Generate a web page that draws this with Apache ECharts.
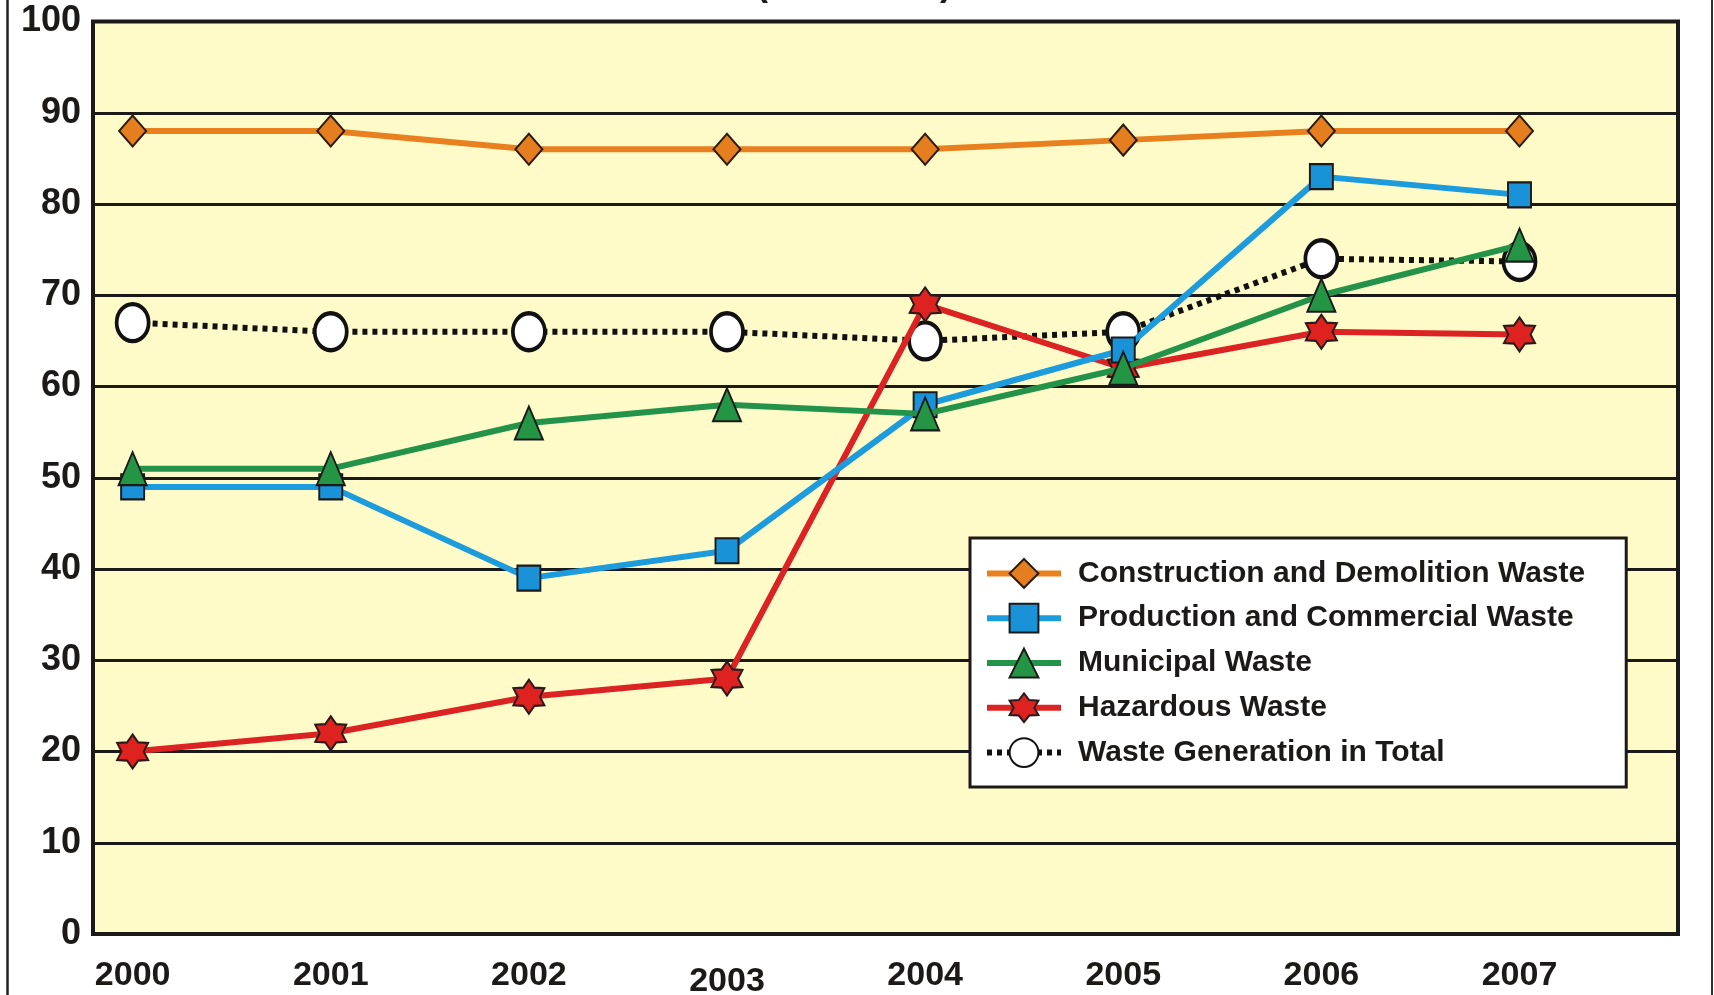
<!DOCTYPE html>
<html>
<head>
<meta charset="utf-8">
<script src="https://cdn.jsdelivr.net/npm/echarts@6/dist/echarts.min.js"></script>
<style>
html,body{margin:0;padding:0;background:#fff;}
#chart{width:1714px;height:995px;}
</style>
</head>
<body>
<div id="chart"></div>
<script>
// ---- data ----
var years = [2000, 2001, 2002, 2003, 2004, 2005, 2006, 2007];
var yTicks = [0, 10, 20, 30, 40, 50, 60, 70, 80, 90, 100];
var seriesNames = [
  'Construction and Demolition Waste',
  'Production and Commercial Waste',
  'Municipal Waste',
  'Hazardous Waste',
  'Waste Generation in Total'
];
var construction = [88, 88, 86, 86, 86, 87, 88, 88];
var production   = [49, 49, 39, 42, 58, 64, 83, 81];
var municipal    = [51, 51, 56, 58, 57, 62, 70, 75.5];
var hazardous    = [20, 22, 26, 28, 69, 62, 66, 65.7];
var total        = [67, 66, 66, 66, 65, 66, 74, 73.7];

function pairs(vals) {
  return vals.map(function (v, i) { return [years[i], v]; });
}

// six-pointed star symbol
function starPath() {
  var pts = [];
  for (var k = 0; k < 12; k++) {
    var ang = (-90 + k * 30) * Math.PI / 180;
    var r = (k % 2 === 0) ? 50 : 31;
    pts.push((50 + r * Math.cos(ang)).toFixed(2) + ' ' + (50 + r * Math.sin(ang)).toFixed(2));
  }
  return 'path://M' + pts.join(' L') + ' Z';
}

var chart = echarts.init(document.getElementById('chart'));
var fontFam = '"Liberation Sans", Arial, sans-serif';
var ink = '#1c1a18';

var option = {
  backgroundColor: '#ffffff',
  animation: false,
  graphic: [
    { type: 'line', shape: { x1: 7.5, y1: 0, x2: 7.5, y2: 995 }, style: { stroke: '#222', lineWidth: 2.5 } },
    { type: 'line', shape: { x1: 1712, y1: 0, x2: 1712, y2: 995 }, style: { stroke: '#333', lineWidth: 2 } },
    { type: 'text', x: 854, y: -15, style: { text: '(2000-2007)', font: 'bold 36px ' + fontFam, fill: ink, align: 'center', verticalAlign: 'middle' } }
  ],
  grid: {
    left: 93, right: 36, top: 21.5, bottom: 61,
    containLabel: false,
    outerBoundsMode: 'none',
    show: true,
    backgroundColor: '#FFFBC9',
    borderColor: ink,
    borderWidth: 4
  },
  xAxis: {
    type: 'value',
    min: 1999.8,
    max: 2007.8,
    interval: 0.2,
    axisLine: { show: false },
    axisTick: { show: false },
    splitLine: { show: false },
    axisLabel: {
      margin: 25,
      fontFamily: fontFam,
      fontSize: 34,
      fontWeight: 'bold',
      color: ink,
      formatter: function (v) {
        var r = Math.round(v);
        if (Math.abs(v - r) > 1e-6 || years.indexOf(r) < 0) return '';
        return r === 2003 ? '{low|' + r + '}' : String(r);
      },
      rich: {
        low: { fontFamily: fontFam, fontSize: 34, fontWeight: 'bold', color: ink, padding: [6, 0, 0, 0] }
      }
    }
  },
  yAxis: {
    type: 'value',
    min: yTicks[0],
    max: yTicks[yTicks.length - 1],
    interval: yTicks[1] - yTicks[0],
    axisLine: { show: false },
    axisTick: { show: false },
    splitLine: { show: true, lineStyle: { color: ink, width: 3 } },
    axisLabel: {
      margin: 12,
      fontFamily: fontFam,
      fontSize: 36,
      fontWeight: 'bold',
      color: ink
    }
  },
  legend: {
    orient: 'vertical',
    left: 970,
    top: 538,
    backgroundColor: '#ffffff',
    borderColor: ink,
    borderWidth: 3,
    borderRadius: 0,
    padding: [20, 41, 19, 14],
    itemWidth: 74,
    itemHeight: 36,
    itemGap: 14,
    lineStyle: { width: 6 },
    data: [
      { name: seriesNames[0] },
      { name: seriesNames[1] },
      { name: seriesNames[2] },
      { name: seriesNames[3] },
      { name: seriesNames[4], lineStyle: { width: 6, type: [5, 5] } }
    ],
    textStyle: {
      fontFamily: fontFam,
      fontSize: 30,
      fontWeight: 'bold',
      color: ink,
      padding: [0, 0, 0, 12]
    }
  },
  series: [
    {
      name: seriesNames[4], type: 'line', z: 2, data: pairs(total),
      symbol: 'circle', symbolSize: [32, 37],
      lineStyle: { color: '#111', width: 6, type: [5, 5], cap: 'butt' },
      itemStyle: { color: '#ffffff', borderColor: '#111', borderWidth: 4 }
    },
    {
      name: seriesNames[0], type: 'line', z: 3, data: pairs(construction),
      symbol: 'diamond', symbolSize: [27, 31],
      lineStyle: { color: '#E8801F', width: 6 },
      itemStyle: { color: '#E57E1E', borderColor: '#2a1c10', borderWidth: 2 }
    },
    {
      name: seriesNames[3], type: 'line', z: 4, data: pairs(hazardous),
      symbol: starPath(), symbolSize: [31, 34],
      lineStyle: { color: '#DC2323', width: 6 },
      itemStyle: { color: '#DD2220', borderColor: '#2a1a1a', borderWidth: 2 }
    },
    {
      name: seriesNames[1], type: 'line', z: 5, data: pairs(production),
      symbol: 'rect', symbolSize: [23, 25],
      lineStyle: { color: '#1C9BDD', width: 6 },
      itemStyle: { color: '#1A92D8', borderColor: '#1a1a1a', borderWidth: 2 }
    },
    {
      name: seriesNames[2], type: 'line', z: 6, data: pairs(municipal),
      symbol: 'triangle', symbolSize: [28, 33],
      lineStyle: { color: '#23934A', width: 6 },
      itemStyle: { color: '#249445', borderColor: '#1a1a1a', borderWidth: 2 }
    }
  ]
};
chart.setOption(option);
</script>
</body>
</html>
